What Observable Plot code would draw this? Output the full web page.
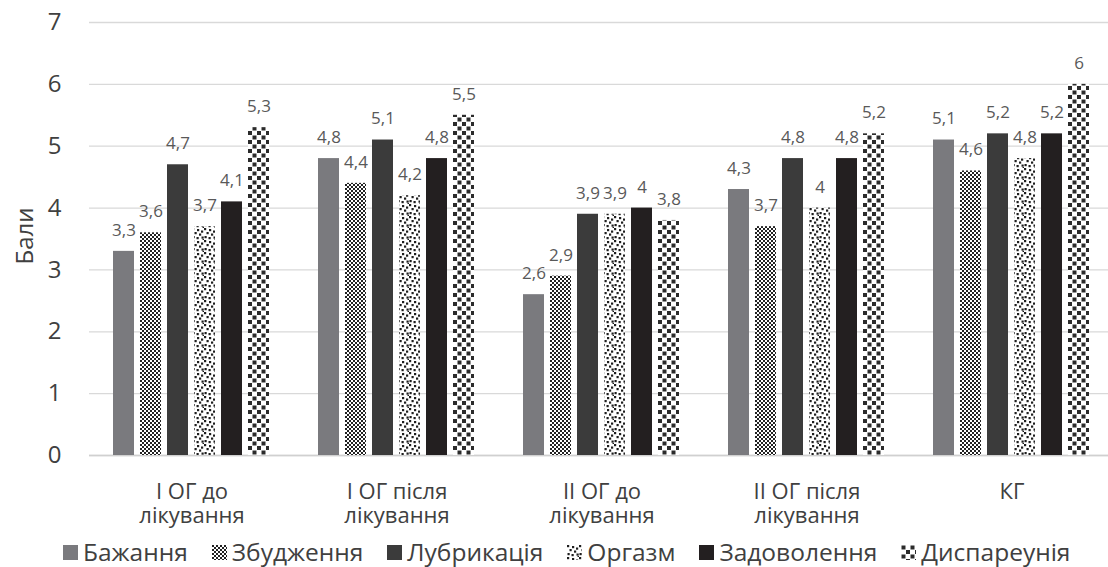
<!DOCTYPE html>
<html>
<head>
<meta charset="utf-8">
<script src="https://cdn.jsdelivr.net/npm/d3@7"></script>
<script src="https://cdn.jsdelivr.net/npm/@observablehq/plot@0.6"></script>
<style>
  html, body { margin: 0; padding: 0; background: #fff; }
  body { width: 1108px; height: 567px; overflow: hidden; font-family: "Open Sans", sans-serif; }
  #legend { display: flex; align-items: center; margin-left: 63px; margin-top: 5px; font-size: 24.5px; line-height: 30px; color: #404040; white-space: nowrap; }
  #legend .item { display: flex; align-items: center; margin-right: 24px; }
  #legend svg { margin-right: 5px; }
</style>
</head>
<body>
<div id="chart"></div>
<div id="legend"></div>
<script>
const groups = ["\u0406 ОГ до\nлікування", "\u0406 ОГ після\nлікування", "\u0406\u0406 ОГ до\nлікування", "\u0406\u0406 ОГ після\nлікування", "КГ"];
const series = ["Бажання", "Збудження", "Лубрикація", "Оргазм", "Задоволення", "Диспареунія"];
const bazhannia   = [3.3, 4.8, 2.6, 4.3, 5.1];
const zbudzhennia = [3.6, 4.4, 2.9, 3.7, 4.6];
const lubrykatsiia = [4.7, 5.1, 3.9, 4.8, 5.2];
const orhazm      = [3.7, 4.2, 3.9, 4.0, 4.8];
const zadovolennia = [4.1, 4.8, 4.0, 4.8, 5.2];
const dyspareuniia = [5.3, 5.5, 3.8, 5.2, 6.0];
const yTicks = [0, 1, 2, 3, 4, 5, 6, 7];

const seriesValues = [bazhannia, zbudzhennia, lubrykatsiia, orhazm, zadovolennia, dyspareuniia];
const data = [];
groups.forEach((g, gi) => series.forEach((s, si) => data.push({group: g, series: s, value: seriesValues[si][gi]})));

const fills = ["url(#pBazh)", "url(#pZbud)", "url(#pLub)", "url(#pOrg)", "url(#pZad)", "url(#pDys)"];

const chart = Plot.plot({
  width: 1108,
  height: 532,
  marginLeft: 89,
  marginRight: -6,
  marginTop: 22,
  marginBottom: 77,
  style: {fontFamily: "Open Sans, sans-serif", background: "#fff"},
  fx: {domain: groups, padding: 0, label: null},
  x: {domain: series, paddingInner: 0.21, paddingOuter: 0.86, axis: null},
  y: {domain: [0, 7], label: null},
  color: {type: "ordinal", domain: series, range: fills},
  marks: [
    Plot.gridY(yTicks, {stroke: "#d9d9d9", strokeOpacity: 1, strokeWidth: 1.3}),
    Plot.ruleY([0], {stroke: "#d0d0d0", strokeWidth: 1.5}),
    Plot.axisY(yTicks, {tickSize: 0, tickPadding: 28, fontSize: 24, fill: "#404040", tickFormat: d => String(d), label: null}),
    Plot.axisFx({anchor: "bottom", tickSize: 0, tickPadding: 27, fontSize: 22, lineHeight: 1.08, fill: "#404040", label: null}),
    Plot.barY(data, {fx: "group", x: "series", y: "value", fill: "series"}),
    Plot.text(data, {fx: "group", x: "series", y: "value", text: d => String(d.value).replace(".", ","), dy: -21, fontSize: 17, fill: "#595959"})
  ]
});

// y axis title
const svg = d3.select(chart);
svg.append("text")
  .attr("transform", "translate(27,236) rotate(-90)")
  .attr("text-anchor", "middle")
  .attr("dominant-baseline", "middle")
  .attr("font-size", 24)
  .attr("fill", "#404040")
  .text("Бали");

// pattern definitions
const defs = svg.insert("defs", ":first-child");
function solid(id, c) {
  const p = defs.append("pattern").attr("id", id).attr("patternUnits", "userSpaceOnUse").attr("width", 4).attr("height", 4);
  p.append("rect").attr("width", 4).attr("height", 4).attr("fill", c);
}
solid("pBazh", "#7a7a7e");
solid("pLub", "#3b3b3b");
solid("pZad", "#231f20");
{
  const p = defs.append("pattern").attr("id", "pZbud").attr("patternUnits", "userSpaceOnUse").attr("width", 4).attr("height", 4);
  p.append("rect").attr("width", 4).attr("height", 4).attr("fill", "#fff");
  p.append("rect").attr("width", 2).attr("height", 2).attr("fill", "#222");
  p.append("rect").attr("x", 2).attr("y", 2).attr("width", 2).attr("height", 2).attr("fill", "#222");
}
{
  const p = defs.append("pattern").attr("id", "pDys").attr("patternUnits", "userSpaceOnUse").attr("width", 9).attr("height", 9);
  p.append("rect").attr("width", 9).attr("height", 9).attr("fill", "#fff");
  p.append("rect").attr("x", 0.5).attr("y", 0.5).attr("width", 4).attr("height", 4).attr("fill", "#2b2b2b");
  p.append("rect").attr("x", 5).attr("y", 5).attr("width", 4).attr("height", 4).attr("fill", "#2b2b2b");
}
{
  const p = defs.append("pattern").attr("id", "pOrg").attr("patternUnits", "userSpaceOnUse").attr("width", 12).attr("height", 12);
  p.append("rect").attr("width", 12).attr("height", 12).attr("fill", "#fff");
  const dots = [[0,0],[5,1],[9,2.5],[2.5,4],[7,5.5],[0.5,8],[4.5,9],[9.5,8.5],[10.5,11]];
  dots.forEach(([x, y]) => p.append("rect").attr("x", x).attr("y", y).attr("width", 2.2).attr("height", 2.2).attr("fill", "#1e1e1e"));
}

document.getElementById("chart").appendChild(chart);

// legend
const legend = d3.select("#legend");
series.forEach((s, i) => {
  const item = legend.append("div").attr("class", "item");
  const sw = item.append("svg").attr("width", 15).attr("height", 15);
  sw.append("rect").attr("width", 15).attr("height", 15).attr("fill", fills[i]);
  item.append("span").text(s);
});
</script>
</body>
</html>
